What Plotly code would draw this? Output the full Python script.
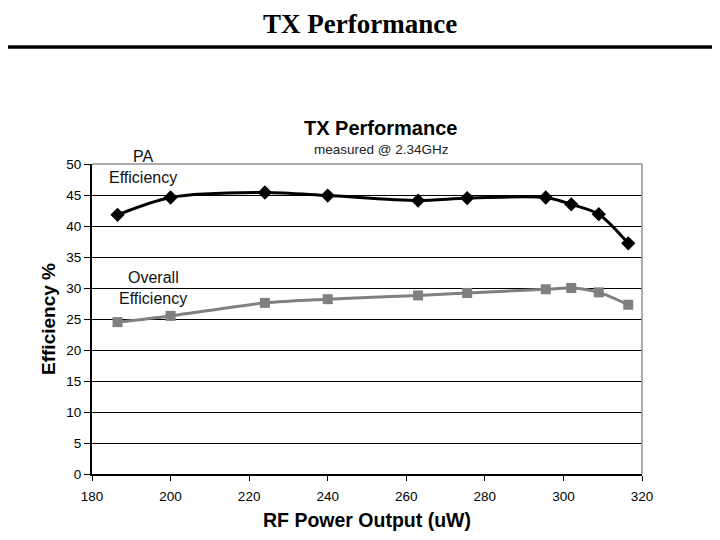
import plotly.graph_objects as go

power_uw = [186.5, 200, 224, 240, 263, 275.5, 295.5, 302, 309, 316.5]
pa_eff = [41.8, 44.6, 45.4, 44.9, 44.1, 44.5, 44.6, 43.5, 41.9, 37.2]
overall_eff = [24.5, 25.5, 27.6, 28.2, 28.8, 29.2, 29.8, 30.0, 29.3, 27.3]

x_ticks = [180, 200, 220, 240, 260, 280, 300, 320]
y_ticks = [0, 5, 10, 15, 20, 25, 30, 35, 40, 45, 50]

sans = "Liberation Sans, Arial, sans-serif"

fig = go.Figure()
fig.add_trace(go.Scatter(
    x=power_uw, y=pa_eff, mode="lines+markers", line_shape="spline",
    line=dict(color="black", width=3, smoothing=0.8),
    marker=dict(symbol="diamond", size=11, color="black"),
    showlegend=False))
fig.add_trace(go.Scatter(
    x=power_uw, y=overall_eff, mode="lines+markers", line_shape="spline",
    line=dict(color="#808080", width=3, smoothing=0.8),
    marker=dict(symbol="square", size=10, color="#808080"),
    showlegend=False))

fig.update_layout(
    width=720, height=540,
    margin=dict(l=84, r=86, t=156, b=74),
    paper_bgcolor="white", plot_bgcolor="white",
    font=dict(family=sans, color="black"),
    xaxis=dict(range=[180, 320], tickvals=x_ticks, showgrid=False,
               showline=True, linecolor="black", linewidth=1.5,
               ticks="outside", ticklen=5, tickcolor="black",
               ticklabelstandoff=4,
               tickfont=dict(size=13.5, family=sans, color="black"),
               title=dict(text="<b>RF Power Output (uW)</b>", font=dict(size=19.5), standoff=10),
               zeroline=False),
    yaxis=dict(range=[0, 50], tickvals=y_ticks, showgrid=True, gridcolor="black",
               gridwidth=1, showline=True, linecolor="black", linewidth=2,
               ticks="outside", ticklen=6, tickcolor="black",
               tickfont=dict(size=13.5, family=sans, color="black"),
               title=dict(text="<b>Efficiency %</b>", font=dict(size=19), standoff=6),
               zeroline=False),
)

# plot-area border (gray) on top and right
fig.add_shape(type="line", xref="paper", yref="paper", x0=0, x1=1, y0=1, y1=1,
              line=dict(color="#909090", width=1.5))
fig.add_shape(type="line", xref="paper", yref="paper", x0=1, x1=1, y0=0, y1=1,
              line=dict(color="#909090", width=1.5))

# slide header line
fig.add_shape(type="line", xref="paper", yref="paper",
              x0=-0.2, x1=1.2, y0=(474 - 47) / 310, y1=(474 - 47) / 310,
              line=dict(color="black", width=3.5))

# slide title
fig.add_annotation(text="<b>TX Performance</b>", xref="paper", yref="paper",
                   x=(360 - 92) / 550, y=(474 - 24) / 310, showarrow=False,
                   font=dict(family="Liberation Serif, Times New Roman, serif", size=27, color="black"),
                   xanchor="center", yanchor="middle")
# chart title
fig.add_annotation(text="<b>TX Performance</b>", xref="paper", yref="paper",
                   x=(380 - 92) / 550, y=(474 - 128) / 310, showarrow=False,
                   font=dict(size=20, color="black"), xanchor="center", yanchor="middle")
fig.add_annotation(text="measured @ 2.34GHz", xref="paper", yref="paper",
                   x=(381 - 92) / 550, y=(474 - 149) / 310, showarrow=False,
                   font=dict(size=13.5, color="#222222"), xanchor="center", yanchor="middle")

# series labels
for txt, xv, py in [("PA", 193.0, 156.7), ("Efficiency", 193.0, 177.7),
                    ("Overall", 195.6, 277.7), ("Efficiency", 195.6, 298.3)]:
    fig.add_annotation(text=txt, x=xv, xref="x", y=(474 - py) / 310, yref="paper",
                       showarrow=False, font=dict(size=16, color="#111111"),
                       xanchor="center", yanchor="middle")

fig.write_html("out.html")
